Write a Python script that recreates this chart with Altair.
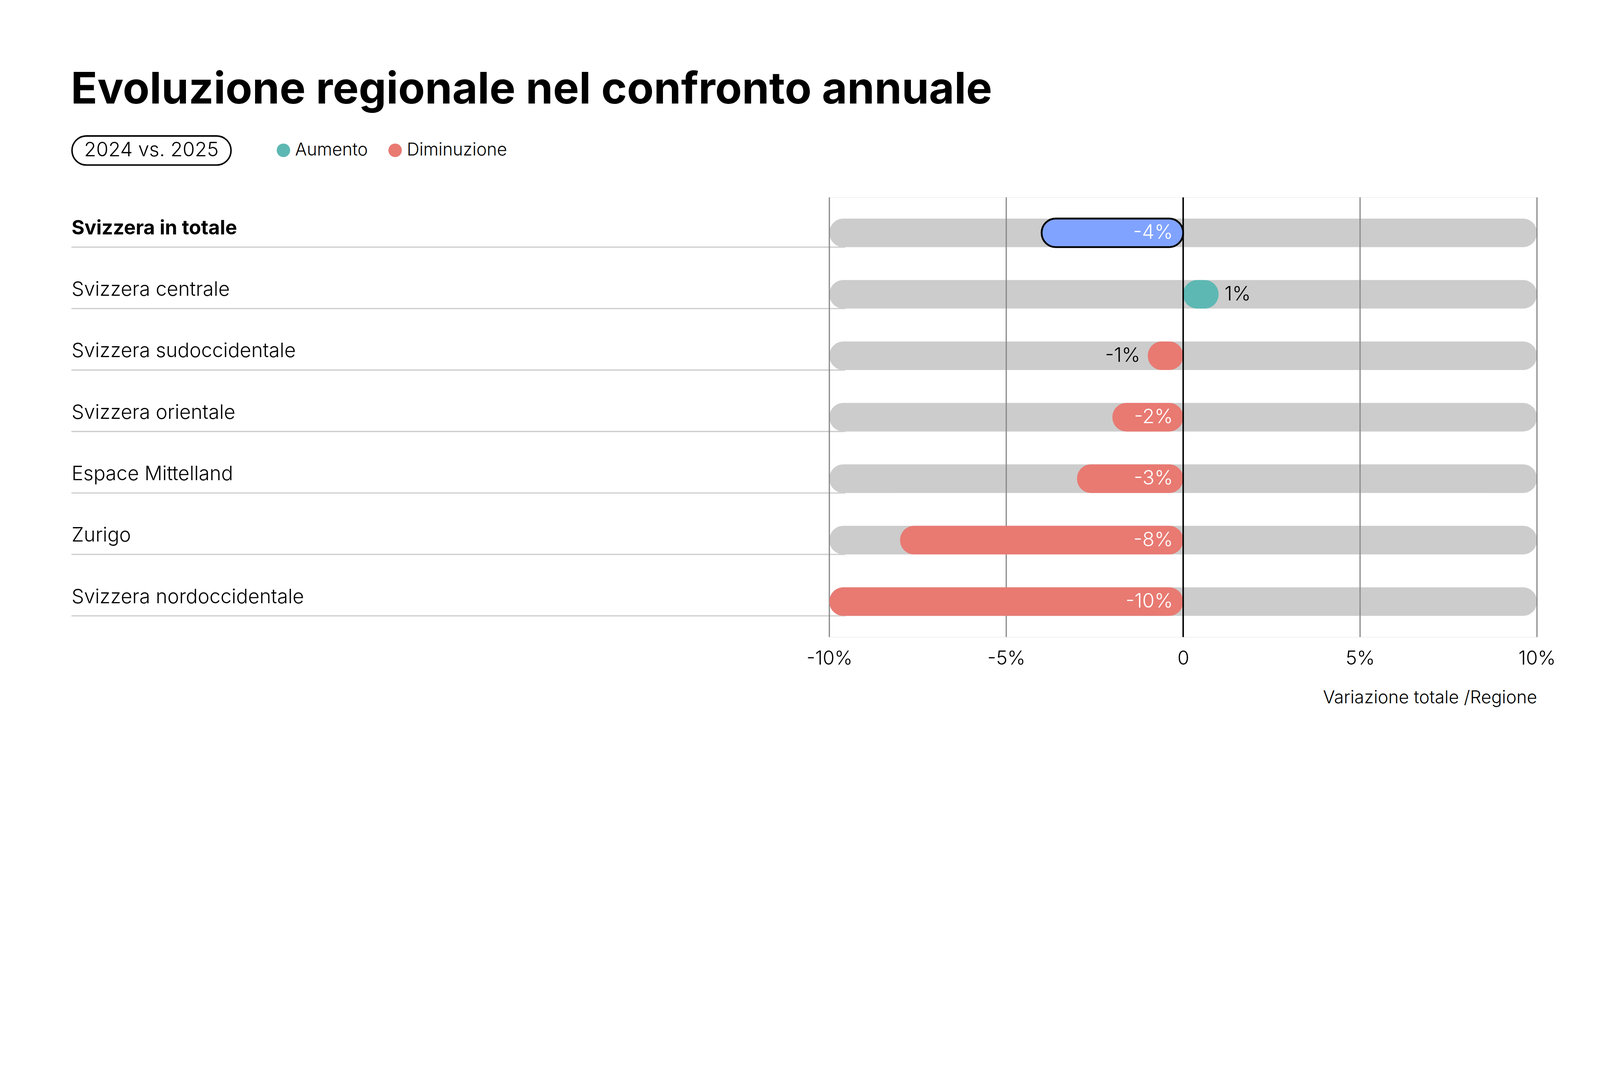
import altair as alt
import pandas as pd

# ---- data ----
regions = [
    "Svizzera in totale",
    "Svizzera centrale",
    "Svizzera sudoccidentale",
    "Svizzera orientale",
    "Espace Mittelland",
    "Zurigo",
    "Svizzera nordoccidentale",
]
changes = [-4, 1, -1, -2, -3, -8, -10]
total_region = "Svizzera in totale"
x_domain = [-10, 10]
x_ticks = [-10, -5, 0, 5, 10]
legend_categories = ["Aumento", "Diminuzione"]
legend_colors = ["#5DB8B3", "#E87A72"]
period_label = ["2024 vs. 2025"]
title_text = "Evoluzione regionale nel confronto annuale"
x_title = "Variazione totale /Regione"

df = pd.DataFrame({"region": regions, "change": changes})

FONT = "Inter"
W, H = 2363, 1468
R = 47

y_scale = alt.Scale(domain=regions, paddingInner=0.535, paddingOuter=0.345)
y_axis = alt.Axis(
    title=None, domain=False, ticks=False, tickSize=0, grid=False,
    labelAlign="left", labelBaseline="middle", labelPadding=2531,
    labelOffset=-15, labelFontSize=66, labelFont=FONT, labelColor="#000000",
    labelLimit=3000,
    labelFontWeight={"condition": {"test": f"datum.value === '{total_region}'", "value": 700}, "value": 300},
)
x_scale = alt.Scale(domain=x_domain, nice=False, zero=False)
x_axis = alt.Axis(
    values=x_ticks, grid=False, domain=False, ticks=False, tickSize=0,
    labelFlush=False, labelOverlap=False,
    labelExpr="datum.value == 0 ? '0' : datum.value + '%'",
    labelFontSize=64, labelFont=FONT, labelFontWeight=300, labelColor="#000000",
    labelBaseline="middle", labelPadding=73,
    title=x_title, titleX=W, titleY=202, titleAlign="right", titleBaseline="middle",
    titleFontSize=59, titleFont=FONT, titleFontWeight=300, titleColor="#000000",
)

def Y(**kw):
    return alt.Y("region:N", sort=regions, scale=y_scale, axis=y_axis, **kw)

base = alt.Chart(df)

separators = base.mark_rule(color="#CCCCCC", strokeWidth=4).encode(
    y=Y(bandPosition=1), x=alt.value(-2531), x2=alt.value(53)
)

background = base.transform_calculate(
    lo=f"{x_domain[0]}", hi=f"{x_domain[1]}"
).mark_bar(color="#CCCCCC", cornerRadius=R).encode(
    y=Y(), x=alt.X("lo:Q", scale=x_scale, axis=x_axis), x2="hi:Q"
)

grid = alt.Chart(pd.DataFrame({"tick": x_ticks})).transform_filter(
    "datum.tick != 0"
).mark_rule(color="#888888", strokeWidth=4).encode(
    x=alt.X("tick:Q", scale=x_scale, axis=x_axis)
)

region_bars = base.transform_filter(
    f"datum.region !== '{total_region}'"
).transform_calculate(
    tipo="datum.change > 0 ? 'Aumento' : 'Diminuzione'"
).mark_bar(cornerRadius=R).encode(
    y=Y(),
    x=alt.X("change:Q", scale=x_scale, axis=x_axis),
    x2=alt.datum(0),
    color=alt.Color(
        "tipo:N",
        scale=alt.Scale(domain=legend_categories, range=legend_colors),
        legend=alt.Legend(
            title=None, orient="none", legendX=-1852, legendY=-186,
            direction="horizontal", symbolType="circle", symbolSize=2025,
            symbolStrokeWidth=0, symbolOpacity=1,
            labelFontSize=58, labelFont=FONT, labelFontWeight=300,
            labelColor="#000000", labelOffset=10, columnPadding=62,
            labelLimit=1000,
        ),
    ),
)

total_bar = base.transform_filter(
    f"datum.region === '{total_region}'"
).mark_bar(color="#80A3FF", stroke="#000000", strokeWidth=6, cornerRadius=R).encode(
    y=Y(), x=alt.X("change:Q", scale=x_scale, axis=x_axis), x2=alt.datum(0)
)

labeled = base.transform_calculate(label="datum.change + '%'")

inside_labels = labeled.transform_filter("abs(datum.change) > 1").mark_text(
    align="right", baseline="middle", dx=-34, color="#FFFFFF",
    fontSize=66, font=FONT, fontWeight=300
).encode(y=Y(), x=alt.datum(0), text="label:N")

pos_labels = labeled.transform_filter("datum.change > 0 && abs(datum.change) <= 1").mark_text(
    align="left", baseline="middle", dx=20, color="#000000",
    fontSize=66, font=FONT, fontWeight=300
).encode(y=Y(), x=alt.X("change:Q", scale=x_scale, axis=x_axis), text="label:N")

neg_labels = labeled.transform_filter("datum.change < 0 && abs(datum.change) <= 1").mark_text(
    align="right", baseline="middle", dx=-25, color="#000000",
    fontSize=66, font=FONT, fontWeight=300
).encode(y=Y(), x=alt.X("change:Q", scale=x_scale, axis=x_axis), text="label:N")

zero_line = alt.Chart(pd.DataFrame({"tick": [0]})).mark_rule(
    color="#000000", strokeWidth=5
).encode(x=alt.X("tick:Q", scale=x_scale, axis=x_axis))

period_df = pd.DataFrame({"period": period_label})
pill = alt.Chart(period_df).mark_rect(
    fill="#FFFFFF", stroke="#000000", strokeWidth=5, cornerRadius=48
).encode(
    x=alt.value(-2529), x2=alt.value(-1998), y=alt.value(-205), y2=alt.value(-108)
)
pill_text = alt.Chart(period_df).mark_text(
    align="center", baseline="middle", fontSize=66, font=FONT, fontWeight=300, color="#000000"
).encode(text="period:N", x=alt.value(-2264), y=alt.value(-157))

chart = alt.layer(
    separators, background, grid, region_bars, total_bar,
    inside_labels, pos_labels, neg_labels, zero_line, pill, pill_text
).properties(
    width=W, height=H,
    title=alt.TitleParams(
        title_text, anchor="start", frame="bounds", font=FONT, fontSize=146,
        fontWeight="bold", color="#000000", offset=75,
    ),
    autosize=alt.AutoSizeParams(type="none"),
    padding={"left": 2759, "top": 327, "right": 200, "bottom": 317},
).configure_view(stroke=None).configure(font=FONT, background="#FFFFFF")

chart.save("out.html", embed_options={"renderer": "svg", "actions": False})
